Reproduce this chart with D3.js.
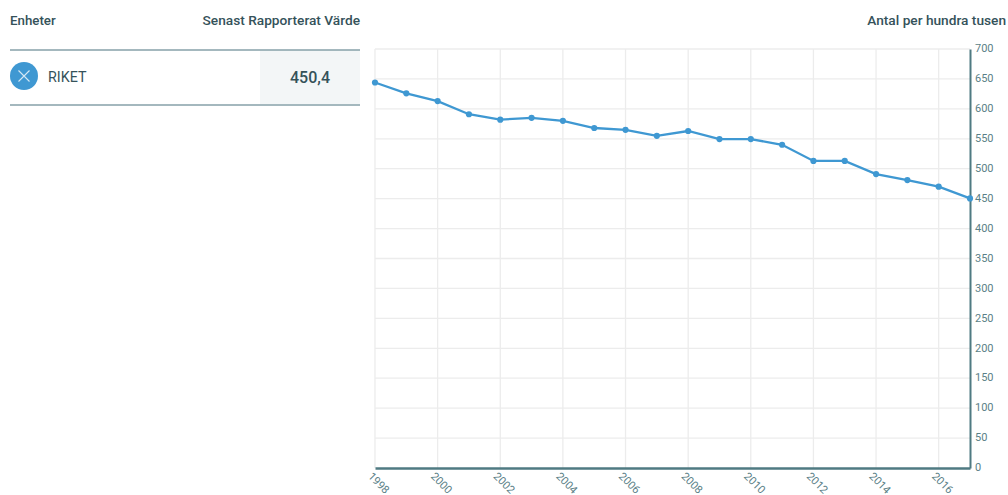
<!DOCTYPE html>
<html><head><meta charset="utf-8">
<script src="https://cdn.jsdelivr.net/npm/d3@7/dist/d3.min.js"></script>
<style>
html,body{margin:0;padding:0;background:#fff;overflow:hidden}
svg{display:block;font-family:Roboto,sans-serif}
</style></head><body>
<svg id="c" width="1008" height="495"></svg>
<script>
const years=[1998,1999,2000,2001,2002,2003,2004,2005,2006,2007,2008,2009,2010,2011,2012,2013,2014,2015,2016,2017];
const values=[644,626,613,591,582,585,580,568,565,555,563,549.6,549.5,540,513,513,491,481,470,450.4];
const yTicks=[0,50,100,150,200,250,300,350,400,450,500,550,600,650,700];
const xTicks=[1998,2000,2002,2004,2006,2008,2010,2012,2014,2016];
const unitName="RIKET", latest="450,4";
const headLeft="Enheter", headMid="Senast Rapporterat Värde", headRight="Antal per hundra tusen";

const dark="#35525a", teal="#4f7a82", blue="#3f98d2", grid="#ececec";
const svg=d3.select("#c");
const x=d3.scaleLinear().domain([1998,2017]).range([375,970]);
const y=d3.scaleLinear().domain([0,700]).range([468,49]);

// table
const t=(px,py,s,a,size,w,c)=>svg.append("text").attr("x",px).attr("y",py).attr("text-anchor",a)
  .attr("font-size",size).attr("font-weight",w).attr("fill",c).text(s);
t(10,25,headLeft,"start",13.3,500,dark);
t(360,25,headMid,"end",13.7,500,dark);
t(1006,25,headRight,"end",13.7,500,dark);
svg.append("rect").attr("x",260).attr("y",50).attr("width",100).attr("height",54).attr("fill","#f3f6f7");
[50,105].forEach(v=>svg.append("line").attr("x1",10).attr("x2",360).attr("y1",v).attr("y2",v)
  .attr("stroke","#86a1a8").attr("stroke-width",1.4));
svg.append("circle").attr("cx",24).attr("cy",76).attr("r",14).attr("fill",blue);
svg.append("path").attr("d","M18.5 70.5L29.5 81.5M29.5 70.5L18.5 81.5").attr("stroke","#d5e8f5").attr("stroke-width",1.1);
t(48,82,unitName,"start",14.3,400,dark);
t(310,83,latest,"middle",16,500,dark);

// grid
const g=svg.append("g");
g.selectAll(".h").data(yTicks.filter(d=>d>0)).join("line")
  .attr("x1",375).attr("x2",970).attr("y1",d=>y(d)).attr("y2",d=>y(d)).attr("stroke",grid).attr("stroke-width",1.3);
g.selectAll(".v").data(xTicks).join("line")
  .attr("x1",d=>x(d)).attr("x2",d=>x(d)).attr("y1",49).attr("y2",468).attr("stroke",grid).attr("stroke-width",1.3);

// axes
const ay=svg.append("g").attr("transform","translate(970,0)")
  .call(d3.axisRight(y).tickValues(yTicks).tickSize(0).tickPadding(5));
ay.select(".domain").attr("stroke",teal).attr("stroke-width",2);
ay.selectAll("text").attr("font-family","Roboto").attr("font-size",11).attr("fill","#5b7f87").attr("dy","0.25em");
const ax=svg.append("g").attr("transform","translate(0,468)")
  .call(d3.axisBottom(x).tickValues(xTicks).tickFormat(d3.format("d")).tickSize(0));
ax.select(".domain").attr("stroke",teal).attr("stroke-width",2.6);
ax.selectAll("text").attr("font-family","Roboto").attr("font-size",11).attr("fill","#5b7f87")
  .attr("text-anchor","start").attr("dy",0).attr("y",0)
  .attr("transform","translate(-8,9) rotate(45)");

// series
const rows=years.map((yr,i)=>({yr,v:values[i]}));
svg.append("path").datum(rows).attr("fill","none").attr("stroke",blue).attr("stroke-width",2.3)
  .attr("d",d3.line().x(d=>x(d.yr)).y(d=>y(d.v)));
svg.selectAll(".p").data(rows).join("circle").attr("cx",d=>x(d.yr)).attr("cy",d=>y(d.v)).attr("r",3.1).attr("fill",blue);
</script></body></html>
